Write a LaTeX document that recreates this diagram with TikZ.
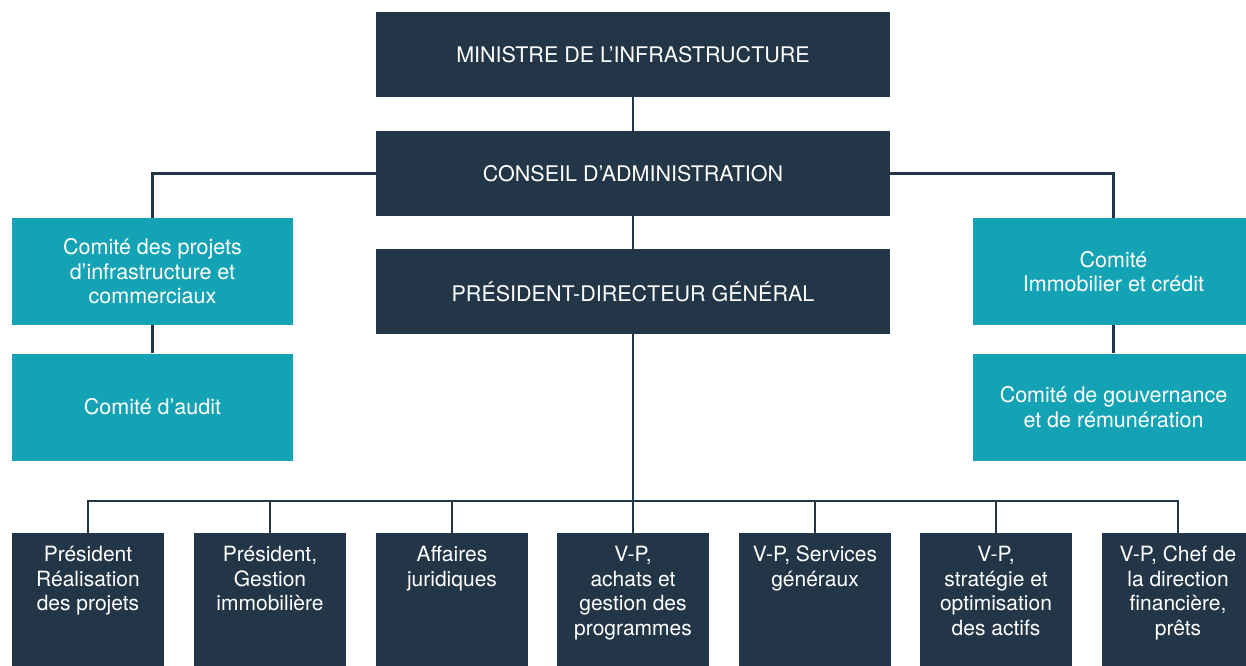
\documentclass[tikz,border=0pt]{standalone}
\usepackage{fontspec}
\setmainfont{TeX Gyre Heros}
\definecolor{navy}{HTML}{233647}
\definecolor{tealbox}{HTML}{14A3B4}
\begin{document}
\begin{tikzpicture}[x=1pt,y=-1pt,
  box/.style={rectangle, inner sep=0pt, text=white, align=center,
    font=\fontsize{21.5}{24.5}\selectfont},
  darkbox/.style={box, fill=navy, minimum width=514pt, minimum height=85pt},
  committee/.style={box, fill=tealbox, minimum width=281pt, minimum height=107pt},
  unit/.style={rectangle, fill=navy, minimum width=152pt, minimum height=150pt,
    inner sep=0pt, anchor=north},
  unitlabel/.style={text=white, align=center, inner sep=0pt, anchor=north,
    font=\fontsize{21}{24.5}\selectfont},
  link/.style={draw=navy, line width=2.2pt}
]
\useasboundingbox (0,0) rectangle (1246,665);
\clip (0,0) rectangle (1246,665);

% governance chain
\node[darkbox] (min) at (633,54.5) {MINISTRE DE L’INFRASTRUCTURE};
\node[darkbox] (ca)  at (633,173.5) {CONSEIL D’ADMINISTRATION};
\node[darkbox] (pdg) at (633,291.5) {PRÉSIDENT-DIRECTEUR GÉNÉRAL};

% board committees
\node[committee] (cpi) at (152.5,271.5) {Comité des projets\\d’infrastructure et\\commerciaux};
\node[committee] (aud) at (152.5,407) {Comité d’audit};
\node[committee] (imm) at (1113.5,271.5) {Comité\\Immobilier et crédit};
\node[committee] (gov) at (1113.5,407) {Comité de gouvernance\\et de rémunération};

\draw[link] (min.south) -- (ca.north);
\draw[link] (ca.south) -- (pdg.north);
\draw[link] (ca.west) -| (cpi.north);
\draw[link] (cpi.south) -- (aud.north);
\draw[link] (ca.east) -| (imm.north);
\draw[link] (imm.south) -- (gov.north);

% executive units
\coordinate (bus) at (633,501);
\foreach \n/\x/\t in {
  u1/88/{Président\\Réalisation\\des projets},
  u2/270/{Président,\\Gestion\\immobilière},
  u3/452/{Affaires\\juridiques},
  u4/633/{V-P,\\achats et\\gestion des\\programmes},
  u5/815/{V-P, Services\\généraux},
  u6/996/{V-P,\\stratégie et\\optimisation\\des actifs},
  u7/1178/{V-P, Chef de\\la direction\\financière,\\prêts}} {
  \node[unit] (\n) at (\x,533) {};
  \node[unitlabel] (\n-t) at (\x,544.5) {\strut\t};
  \draw[link] (bus) -| (\n.north);
}
\draw[link] (pdg.south) -- (bus);
\end{tikzpicture}
\end{document}
